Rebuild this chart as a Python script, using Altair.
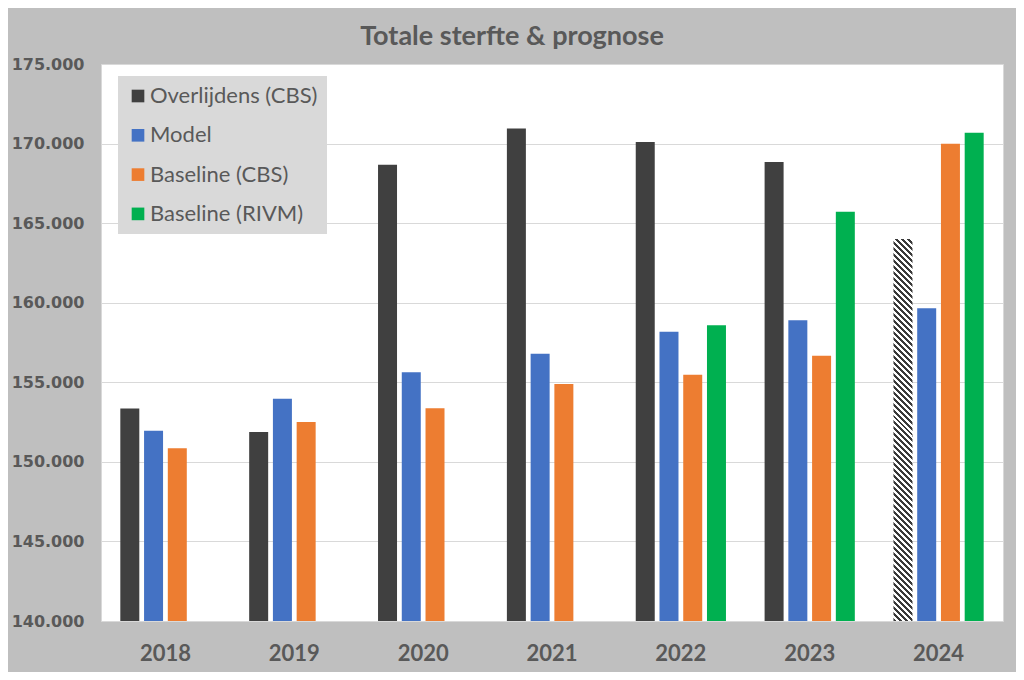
import altair as alt
import pandas as pd

years = ["2018", "2019", "2020", "2021", "2022", "2023", "2024"]
series = ["Overlijdens (CBS)", "Model", "Baseline (CBS)", "Baseline (RIVM)"]
overlijdens = [153350, 151880, 168670, 170940, 170100, 168840, 164010]
model = [151950, 153960, 155630, 156800, 158170, 158900, 159650]
baseline_cbs = [150850, 152510, 153370, 154900, 155470, 156660, 169990]
baseline_rivm = [None, None, None, None, 158580, 165720, 170680]
prognose_years = ["2024"]  # overlijdens in these years are a forecast (hatched)
colors = ["#404040", "#4472c4", "#ed7d31", "#00b050"]
y_ticks = [140000, 145000, 150000, 155000, 160000, 165000, 170000, 175000]

rows = []
for s, vals in zip(series, [overlijdens, model, baseline_cbs, baseline_rivm]):
    for yr, v in zip(years, vals):
        if v is None:
            continue
        prog = (s == series[0]) and (yr in prognose_years)
        rows.append({"year": yr, "series": s, "value": v, "prognose": prog})
df = pd.DataFrame(rows)

W, H = 902, 557
YMIN, YMAX = y_ticks[0], y_ticks[-1]

# hatch approximated by a striped linear gradient (45 degree stripes)
bar_w = 19.0
prog_val = df[df.prognose]["value"].iloc[0]
bar_h = (prog_val - YMIN) / (YMAX - YMIN) * H
a = bar_w / bar_h
s = (1 + a) / (1 + a * a)
n_stripes = int(round(bar_h * s / 6.0))
stops = []
for i in range(n_stripes):
    o1 = i / n_stripes
    o2 = (i + 0.5) / n_stripes
    o3 = (i + 1) / n_stripes
    stops += [
        {"offset": o1, "color": "#3a3a3a"},
        {"offset": o2, "color": "#3a3a3a"},
        {"offset": o2, "color": "#ffffff"},
        {"offset": o3, "color": "#ffffff"},
    ]
hatch = {"gradient": "linear", "x1": 0, "y1": 1, "x2": s * a, "y2": 1 - s, "stops": stops}

x_enc = alt.X("year:N", sort=years, scale=alt.Scale(paddingInner=0.263, paddingOuter=0.1315),
              axis=alt.Axis(title=None, labelAngle=0, labelFont="Lato", labelFontSize=22,
                            labelFontWeight="bold", labelColor="#595959", labelPadding=22,
                            ticks=False, domain=False, grid=False))
xo_enc = alt.XOffset("series:N", sort=series,
                     scale=alt.Scale(domain=series, paddingInner=0.2, paddingOuter=0.1))
y_enc = alt.Y("value:Q", scale=alt.Scale(domain=[YMIN, YMAX], zero=False, nice=False),
              axis=alt.Axis(title=None, values=y_ticks, labelFont="DejaVu Sans", labelFontSize=16,
                            labelFontWeight="bold", labelColor="#595959", labelPadding=17,
                            labelExpr="replace(format(datum.value, ',.0f'), ',', '.')",
                            ticks=False, domain=False, grid=True, gridColor="#d9d9d9",
                            gridWidth=1))

base = alt.Chart(df)
bars = base.transform_filter("!datum.prognose").mark_bar(clip=True).encode(
    x=x_enc, xOffset=xo_enc, y=y_enc, y2=alt.datum(YMIN),
    color=alt.Color("series:N", sort=series,
                    scale=alt.Scale(domain=series, range=colors),
                    legend=alt.Legend(title=None, orient="none", legendX=17, legendY=12,
                                      fillColor="#d9d9d9", padding=9,
                                      symbolType="square", symbolSize=160,
                                      symbolStrokeWidth=0, labelFont="Lato",
                                      labelFontSize=22, labelColor="#595959",
                                      labelOffset=1, rowPadding=17.3,
                                      labelLimit=400)),
)
hatched = base.transform_filter("datum.prognose").mark_bar(clip=True, fill=hatch).encode(
    x=x_enc, xOffset=xo_enc, y=y_enc, y2=alt.datum(YMIN),
)

chart = alt.layer(bars, hatched).properties(
    width=W, height=H,
    title=alt.Title("Totale sterfte & prognose", font="Lato", fontSize=27, fontWeight="bold",
                    color="#595959", anchor="middle", dx=-40, offset=5),
    autosize=alt.AutoSizeParams(type="none"),
    padding={"left": 93, "top": 56, "right": 13, "bottom": 51},
    background="#bfbfbf",
).configure_view(fill="white", stroke="#d9d9d9", strokeWidth=1)

chart.save("out.html", embed_options={"renderer": "svg", "actions": False})
